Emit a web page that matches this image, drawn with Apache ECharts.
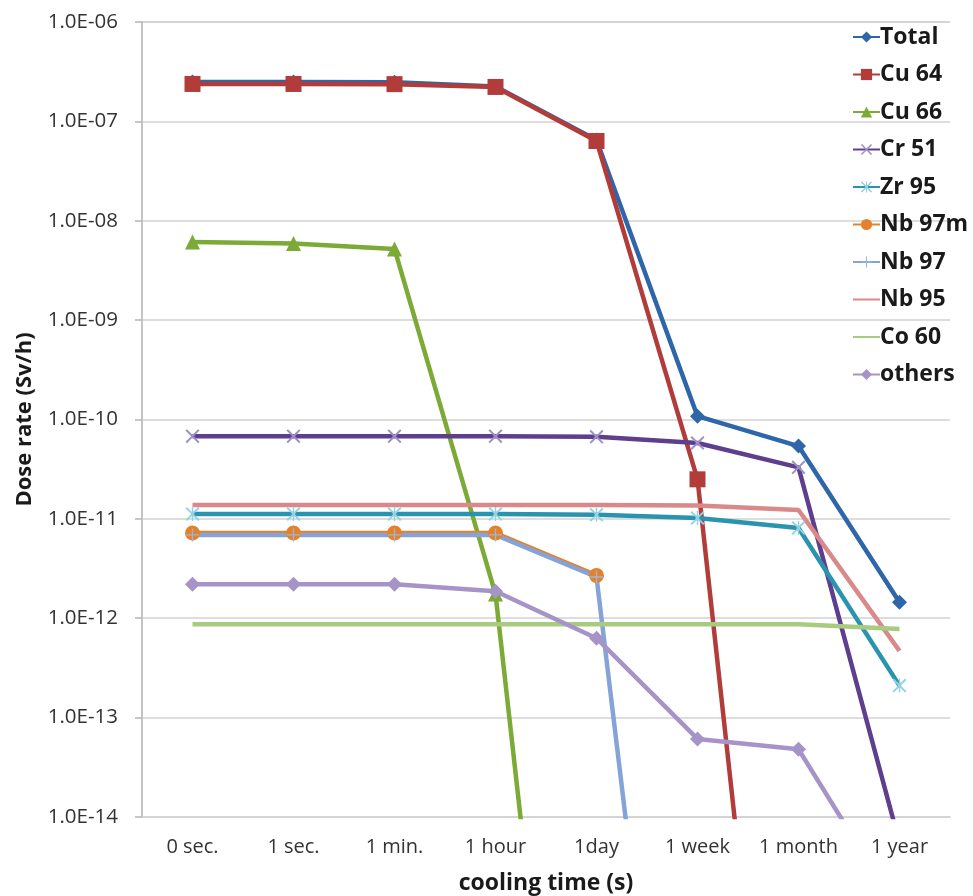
<!DOCTYPE html>
<html>
<head>
<meta charset="utf-8">
<script src="https://cdn.jsdelivr.net/npm/echarts@6/dist/echarts.min.js"></script>
<style>
  html, body { margin: 0; padding: 0; background: #fff; }
  #chart { width: 973px; height: 896px; }
</style>
</head>
<body>
<div id="chart"></div>
<script>
// Cooling-time categories
var categories = ['0 sec.', '1 sec.', '1 min.', '1 hour', '1day', '1 week', '1 month', '1 year'];

// Dose rate per nuclide (Sv/h)
var total  = [2.49e-7, 2.49e-7, 2.48e-7, 2.25e-7, 6.5e-8, 1.08e-10, 5.4e-11, 1.45e-12];
var cu64   = [2.38e-7, 2.38e-7, 2.37e-7, 2.22e-7, 6.35e-8, 2.5e-11, 1.3e-20, 1e-30];
var cu66   = [6.1e-9, 5.9e-9, 5.2e-9, 1.75e-12, 1.5e-21, 1e-30, 1e-30, 1e-30];
var cr51   = [6.8e-11, 6.8e-11, 6.8e-11, 6.8e-11, 6.7e-11, 5.8e-11, 3.3e-11, 5.5e-15];
var zr95   = [1.12e-11, 1.12e-11, 1.12e-11, 1.12e-11, 1.1e-11, 1.02e-11, 8.1e-12, 2.1e-13];
var nb97m  = [7.2e-12, 7.2e-12, 7.2e-12, 7.2e-12, 2.7e-12, null, null, null];
var nb97   = [6.9e-12, 6.9e-12, 6.9e-12, 6.9e-12, 2.6e-12, 1e-20, 1e-30, 1e-30];
var nb95   = [1.38e-11, 1.38e-11, 1.38e-11, 1.38e-11, 1.38e-11, 1.36e-11, 1.23e-11, 4.7e-13];
var co60   = [8.7e-13, 8.7e-13, 8.7e-13, 8.7e-13, 8.7e-13, 8.7e-13, 8.7e-13, 7.8e-13];
var others = [2.2e-12, 2.2e-12, 2.2e-12, 1.87e-12, 6.3e-13, 6.1e-14, 4.8e-14, 1.1e-15];

var FONT = '"Open Sans", "Liberation Sans", sans-serif';

var crossPath = 'path://M0,1L1,0L5,4L9,0L10,1L6,5L10,9L9,10L5,6L1,10L0,9L4,5Z';
var starPath = 'path://M0,1L1,0L4.5,3.5L4.5,0L5.5,0L5.5,3.5L9,0L10,1L6.3,4.5L6.3,5.5L10,9L9,10L5.5,6.5L5.5,10L4.5,10L4.5,6.5L1,10L0,9L3.7,5.5L3.7,4.5Z';
var plusPath = 'path://M0,4.5L4.5,4.5L4.5,0L5.5,0L5.5,4.5L10,4.5L10,5.5L5.5,5.5L5.5,10L4.5,10L4.5,5.5L0,5.5Z';

function mk(name, data, color, symbol, size, symColor) {
  var plain = symbol === 'none';
  return {
    name: name,
    type: 'line',
    data: data,
    symbol: plain ? 'circle' : symbol,
    symbolSize: size,
    showSymbol: !plain,
    connectNulls: false,
    clip: true,
    lineStyle: { color: color, width: 4.5 },
    itemStyle: { color: plain ? 'rgba(0,0,0,0)' : (symColor || color) },
    emphasis: { disabled: true },
    z: 2
  };
}

var series = [
  mk('Total', total, '#2F65A9', 'diamond', 15),
  mk('Cu 64', cu64, '#B13C3A', 'rect', 16),
  mk('Cu 66', cu66, '#7BAA36', 'triangle', 15),
  mk('Cr 51', cr51, '#5E3F8E', crossPath, 14, '#9C90C4'),
  mk('Zr 95', zr95, '#2A93AD', starPath, 14, '#93D2E3'),
  mk('Nb 97m', nb97m, '#E4822B', 'circle', 15),
  mk('Nb 97', nb97, '#85A3D6', plusPath, 13, '#9DB6E0'),
  mk('Nb 95', nb95, '#D9898A', 'none', 0),
  mk('Co 60', co60, '#A8CB80', 'none', 0),
  mk('others', others, '#A694C8', 'diamond', 15)
];

function fmtExp(v) {
  var e = Math.round(Math.log10(v));
  var a = Math.abs(e);
  return '1.0E' + (e < 0 ? '-' : '+') + (a < 10 ? '0' + a : a);
}

var chart = echarts.init(document.getElementById('chart'), null, { renderer: 'canvas' });
chart.setOption({
  animation: false,
  backgroundColor: '#ffffff',
  grid: { left: 142, top: 22, right: 23, bottom: 79, containLabel: false, outerBoundsMode: 'none' },
  legend: {
    orient: 'vertical',
    left: 847,
    top: 19,
    itemWidth: 27,
    itemHeight: 14,
    itemGap: 11.5,
    textStyle: { fontFamily: FONT, fontWeight: 'bold', fontSize: 23, color: '#1a1a1a', lineHeight: 26, padding: [0, 0, 0, -5] },
    data: series.map(function (s) { return s.name; })
  },
  xAxis: {
    type: 'category',
    data: categories,
    boundaryGap: true,
    name: 'cooling time (s)',
    nameLocation: 'middle',
    nameGap: 55,
    nameTextStyle: { fontFamily: FONT, fontWeight: 'bold', fontSize: 23, color: '#1a1a1a' },
    axisLine: { show: true, lineStyle: { color: '#cfcfcf', width: 1.5 } },
    axisTick: { show: false },
    axisLabel: { fontFamily: FONT, fontSize: 20, color: '#333', margin: 20, interval: 0 },
    splitLine: { show: false }
  },
  yAxis: {
    type: 'log',
    logBase: 10,
    min: 1e-14,
    max: 1e-6,
    interval: 1,
    name: 'Dose rate (Sv/h)',
    nameLocation: 'middle',
    nameGap: 106,
    nameRotate: 90,
    nameTextStyle: { fontFamily: FONT, fontWeight: 'bold', fontSize: 22, color: '#1a1a1a' },
    axisLine: { show: true, lineStyle: { color: '#c4c4c4', width: 2 } },
    axisTick: { show: true, length: 7, lineStyle: { color: '#b5b5b5', width: 1.5 } },
    axisLabel: { fontFamily: FONT, fontSize: 20.5, color: '#333', margin: 24, formatter: fmtExp },
    splitLine: { show: true, lineStyle: { color: '#d2d2d2', width: 1.5 } }
  },
  series: series
});
</script>
</body>
</html>
